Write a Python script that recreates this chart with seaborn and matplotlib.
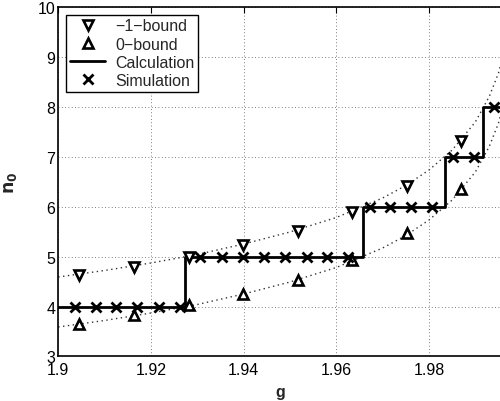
import numpy as np
import pandas as pd
import seaborn as sns
import matplotlib.pyplot as plt

# simulation points (g, n0)
sim_g = [1.9036, 1.9081, 1.9125, 1.9171, 1.9217, 1.9263, 1.9307, 1.9353,
         1.9399, 1.9443, 1.9489, 1.9536, 1.9580, 1.9625, 1.9672, 1.9716,
         1.9762, 1.9806, 1.9851, 1.9897, 1.9941]
sim_n = [4, 4, 4, 4, 4, 4, 5, 5, 5, 5, 5, 5, 5, 5, 6, 6, 6, 6, 7, 7, 8]

# calculation step function: g where n0 jumps
calc_g = [1.9000, 1.9274, 1.9274, 1.9658, 1.9658, 1.9834, 1.9834, 1.9917, 1.9917, 2.0]
calc_n = [4, 4, 5, 5, 6, 6, 7, 7, 8, 8]

# bound markers
bound_g = [1.9044, 1.9163, 1.9282, 1.9399, 1.9518, 1.9634, 1.9753, 1.9870]
bound_m1 = [4.63, 4.80, 4.99, 5.23, 5.51, 5.90, 6.42, 7.32]
bound_0 = [3.65, 3.83, 4.03, 4.25, 4.54, 4.93, 5.47, 6.35]

# dotted guide curves
curve_g = [1.900, 1.910, 1.920, 1.930, 1.940, 1.950, 1.960, 1.970, 1.975,
           1.980, 1.985, 1.990, 1.993, 1.995, 1.997, 1.999]
curve_lo = [3.59, 3.72, 3.87, 4.04, 4.25, 4.49, 4.78, 5.17, 5.42,
            5.73, 6.13, 6.69, 7.20, 7.67, 8.40, 9.97]
curve_hi = [v + 1 for v in curve_lo]

sns.set_style('white')
plt.rcParams['font.family'] = ['Liberation Sans', 'DejaVu Sans']
plt.rcParams['axes.unicode_minus'] = True

fig = plt.figure(figsize=(5.0, 4.02), dpi=100)
ax = fig.add_axes([0.1164, 0.1107, 0.9270, 0.8706])

sns.lineplot(x=curve_g, y=curve_hi, ax=ax, color='#333333', lw=1.0,
             linestyle=(0, (1, 2.5)), sort=False, estimator=None, legend=False)
sns.lineplot(x=curve_g, y=curve_lo, ax=ax, color='#333333', lw=1.0,
             linestyle=(0, (1, 2.5)), sort=False, estimator=None, legend=False)

ax.plot(bound_g, bound_m1, linestyle='none', marker='v', ms=7.5, mfc='white',
        mec='black', mew=1.9, label='\u22121\u2212bound', zorder=4)
ax.plot(bound_g, bound_0, linestyle='none', marker='^', ms=7.5, mfc='white',
        mec='black', mew=1.9, label='0\u2212bound', zorder=4)
sns.lineplot(x=calc_g, y=calc_n, ax=ax, color='black', lw=2.0, sort=False,
             estimator=None, label='Calculation', zorder=3)
ax.plot(sim_g, sim_n, linestyle='none', marker='x', ms=7, mec='black',
        mew=2.0, label='Simulation', zorder=5)

ax.set_xlim(1.9, 2.0)
ax.set_ylim(3, 10)
ax.set_xticks([1.9, 1.92, 1.94, 1.96, 1.98])
ax.set_xticklabels(['1.9', '1.92', '1.94', '1.96', '1.98'])
ax.set_yticks(range(3, 11))
ax.grid(True, color='#555555', linestyle=(0, (1, 3)), lw=0.6)
ax.tick_params(direction='in', length=4, width=0.8, labelsize=11.5,
               top=True, right=True, colors='black')
ax.tick_params(axis='x', pad=4)
ax.tick_params(axis='y', pad=2)
for s in ax.spines.values():
    s.set_color('black')
    s.set_linewidth(1.2)

ax.set_xlabel('g', fontsize=11.5, fontweight='bold')
ax.xaxis.set_label_coords(0.478, -0.08)
ax.set_ylabel(r'$\mathbf{n_0}$', fontsize=12.5)
ax.yaxis.set_label_coords(-0.085, 0.5)

leg = ax.legend(loc='upper left', fontsize=11.5, frameon=True, fancybox=False,
                edgecolor='black', framealpha=1, borderaxespad=0.5,
                handlelength=2.2, labelspacing=0.2, borderpad=0.25,
                handletextpad=0.6)
leg.get_frame().set_linewidth(1.0)

fig.savefig('out.png', dpi=100)
